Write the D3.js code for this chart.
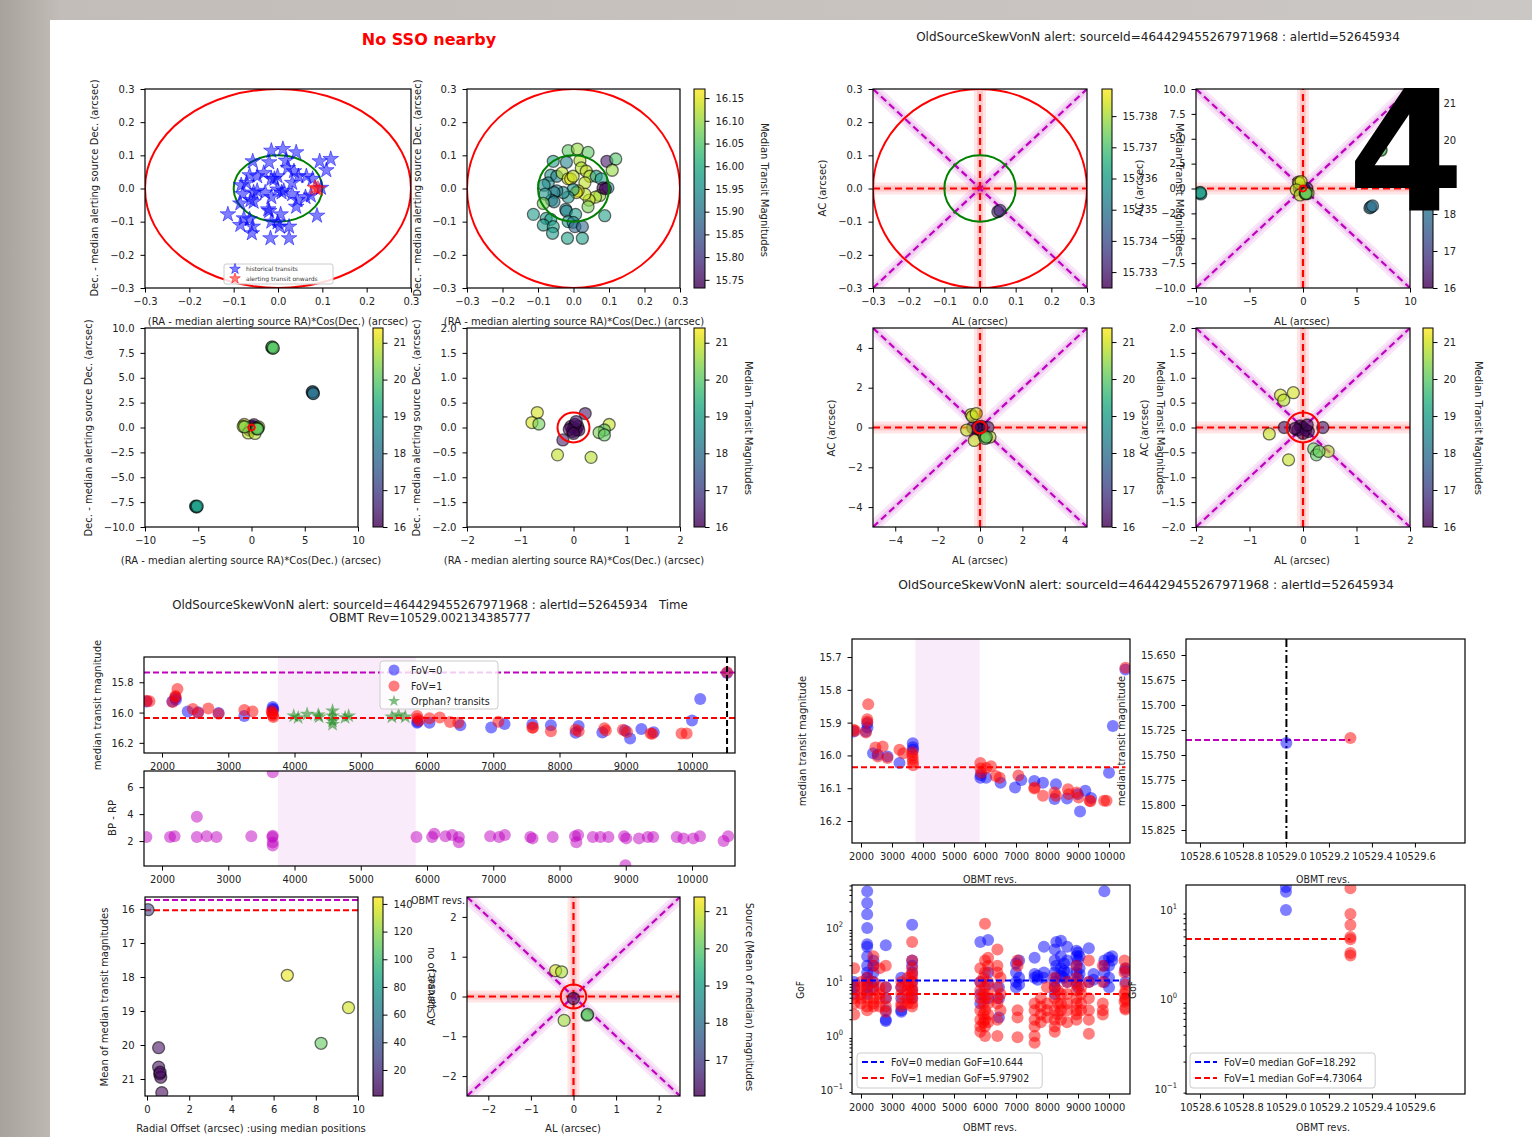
<!DOCTYPE html>
<meta charset="utf-8">
<style>
  body { margin: 0; background: #bdb8b3; }
</style>
<svg id="fig" width="1532" height="1137"></svg>
<script src="https://cdn.jsdelivr.net/npm/d3@7"></script>
<script>
// ---- data ----
const alertRev = 10529.002134385777;
const medianMag = 16.036, alertMag = 15.735;
const gapRevs = [3750, 5830];
const medianGof0 = 10.644, medianGof1 = 5.97902;
const alertGof0 = 18.292, alertGof1 = 4.73064;

// [dRA*cosDec, dDec, median transit mag] of the historical transits
const histOffsets = [[-0.015,0.114,16.06],[0.011,0.119,16.10],[0.041,0.109,16.06],[0.094,0.082,15.76],[0.119,0.089,16.05],
  [0.109,0.055,16.10],[-0.057,0.082,15.98],[-0.02,0.079,15.93],[0.018,0.084,16.12],[-0.064,0.04,15.96],[-0.071,0.017,15.95],
  [-0.083,0.01,15.95],[-0.047,0.037,15.93],[-0.032,0.047,16.12],[-0.015,0.029,16.14],[-0.008,0.029,16.15],[-0.001,0.037,16.13],
  [0.022,0.062,16.12],[0.036,0.052,16.13],[0.046,0.037,16.12],[0.032,0.017,16.13],[0.064,0.037,15.97],[0.078,0.029,15.98],
  [0.097,0.002,15.97],[0.074,-0.021,16.10],[0.062,-0.026,16.12],[0.044,-0.035,16.13],[0.032,-0.017,16.13],[0.013,-0.007,16.14],
  [0.008,-0.012,16.15],[-0.001,-0.003,15.97],[-0.015,-0.026,15.96],[-0.029,-0.012,15.95],[-0.047,-0.007,15.92],[-0.055,-0.012,15.93],
  [-0.062,-0.035,15.93],[-0.055,-0.04,15.92],[-0.08,-0.017,15.96],[-0.085,-0.045,16.08],[0.041,-0.055,16.08],[-0.022,-0.063,15.94],
  [-0.02,-0.068,15.93],[0.006,-0.078,15.97],[-0.113,-0.078,15.97],[-0.077,-0.09,15.97],[-0.064,-0.093,15.98],[-0.085,-0.11,15.97],
  [-0.057,-0.115,15.98],[-0.059,-0.135,15.97],[-0.015,-0.1,15.97],[-0.001,-0.102,15.93],[0.004,-0.115,15.88],[0.025,-0.115,15.88],
  [0.088,-0.082,15.98],[-0.017,-0.15,15.98],[0.025,-0.15,15.98]];
const alertOffsets = [[0.083,0.002,15.735],[0.09,-0.001,15.737]];
const alertAlAc = [[0.05,-0.07,15.733],[0.056,-0.066,15.7333]];

// neighbouring transits [dRA, dDec, mag] and the same in [AL, AC, mag]
const neighbourSky = [[0,0,16.05],[0.05,-0.05,16.1],[-0.05,0.02,16.08],[0.08,0.02,16.12],[-0.02,-0.08,16.15],[0.1,-0.05,16.1],
  [0.03,0.06,16.2],[-0.08,-0.04,16.1],[0.0,-0.12,16.15],[0.05,0.12,16.3],[0.22,0.28,16.3],[-0.2,-0.25,16.4],
  [-0.68,0.3,21.0],[-0.78,0.1,21.0],[-0.3,-0.55,20.9],[0.33,-0.6,20.8],[0.67,0.06,20.9],
  [-0.65,0.07,20.2],[0.58,-0.05,20.0],[0.48,-0.1,20.3],[0.58,-0.15,20.1],
  [1.9,8.05,20.0],[2.0,7.95,20.0],[1.95,8.1,20.0],[2.05,8.0,20.0],[5.7,3.55,18.0],[5.8,3.45,18.0],[5.75,3.6,18.0],[5.8,3.4,18.0],
  [-5.25,-7.9,19.0],[-5.15,-8.0,19.0],[-5.2,-7.95,19.0],[-5.1,-7.9,19.0]];
const neighbourAlAc = [[0,0,16.05],[0.05,-0.05,16.1],[-0.05,0.03,16.08],[0.1,-0.08,16.12],[-0.1,-0.05,16.15],[0.0,-0.12,16.1],
  [0.08,0.05,16.2],[-0.15,-0.02,16.1],[0.37,0.0,16.5],[-0.35,0.0,16.4],
  [-0.42,0.65,21.0],[-0.36,0.55,20.8],[-0.18,0.7,21.0],[-0.63,-0.13,20.9],[-0.27,-0.65,20.9],[0.47,-0.48,20.8],
  [0.2,-0.43,20.1],[0.25,-0.55,20.0],[0.3,-0.48,20.2],
  [-9.65,-0.45,19.0],[-9.55,-0.55,19.0],[-9.6,-0.4,19.0],[6.25,-1.95,18.0],[6.35,-1.85,18.0],[6.5,-1.75,18.0],
  [7.25,3.9,20.0],[7.3,3.85,20.0]];

// light curve [OBMT rev, median transit mag]
const fov0Transits = [[1767,15.927],[2155,15.927],[2202,15.902],[2210,15.915],[2388,15.993],[2543,15.998],[2854,16.003],
  [3242,16.023],[3670,15.963],[3675,15.975],[3680,15.983],[5851,16.068],[5860,16.06],[6037,16.068],[6503,16.083],[6969,16.098],
  [7171,16.075],[7590,16.078],[7870,16.083],[8289,16.088],[8243,16.133],[8647,16.131],[8988,16.118],[9066,16.171],[9236,16.108],
  [9422,16.130],[10000,16.053],[10124,15.910],[10529.002,15.738]];
const fov1Transits = [[1767,15.922],[1810,15.925],[2160,15.93],[2202,15.890],[2205,15.897],[2233,15.844],[2466,15.976],
  [2543,16.003],[2699,15.973],[2854,16.008],[3242,15.983],[3366,15.993],[3655,15.99],[3662,16.0],[3668,16.01],[3674,16.02],
  [3680,16.03],[5851,16.023],[5855,16.04],[5882,16.053],[6037,16.038],[6193,16.033],[6348,16.063],[6472,16.068],[7078,16.061],
  [7590,16.101],[7600,16.098],[7870,16.123],[8243,16.113],[8289,16.123],[8677,16.103],[8700,16.118],[8957,16.113],[9019,16.128],
  [9376,16.138],[9400,16.14],[9842,16.138],[9919,16.138],[10529.3,15.733]];
const orphanTransits = [[3988,16.022],[4055,16.033],[4190,16.011],[4358,16.016],[4371,16.029],[4574,15.989],[4574,16.022],
  [4574,16.056],[4574,16.078],[4763,16.033],[4817,16.022],[5470,16.029],[5571,16.016],[5672,16.029]];
const bpRp = [[1764,2.3],[2121,2.3],[2189,2.35],[2526,2.3],[2526,3.8],[2674,2.35],[2822,2.3],[3348,2.35],[3665,2.3],[3671,2.4],
  [3671,1.9],[3671,1.67],[3671,7.1],[5841,2.3],[6077,2.3],[6110,2.55],[6279,2.35],[6380,2.45],[6481,2.3],[6481,1.92],[6953,2.35],
  [7088,2.3],[7175,2.45],[7559,2.3],[7593,2.2],[7897,2.3],[8234,2.35],[8254,1.92],[8281,2.45],[8503,2.3],[8617,2.3],[8739,2.3],
  [8975,2.35],[9008,2.2],[8995,0.2],[9199,2.2],[9333,2.3],[9414,2.3],[9770,2.3],[9871,2.2],[10019,2.2],[10120,2.35],[10477,2.0],[10545,2.35]];

// neighbour sources [radial offset, mean of median mags, n transits]
const radialOffsets = [[0.05,16.02,30],[0.55,20.08,8],[0.55,20.65,8],[0.6,20.85,5],[0.65,20.95,5],[0.62,20.8,6],[0.7,21.4,5],
  [6.65,17.95,140],[8.25,19.95,110],[9.55,18.9,135]];
const meanAlAc = [[-0.42,0.65,21.0],[-0.28,0.62,20.7],[-0.22,-0.6,20.6],[0.32,-0.47,19.9],[0.33,-0.45,20.1],[0,-0.05,16.3]];

// GoF per transit, grouped by OBMT rev
const gofFov0 = [[1780,[10,8,6]],[2200,[480,290,180,100,50,45,30,20,15,12,10,8,6]],[2400,[25,20,15,10,8]],
  [2800,[48,8,5,3,2,1.9]],[3300,[12,8,5,3,2.8]],[3650,[115,25,20,15,10,7,5]],[5850,[55,10,6,4]],[6100,[60,15,9,5]],
  [6450,[8,5,2.2]],[7000,[22,15,10,8]],[7100,[25,12,9]],[7600,[28,14,12]],[7700,[13,11]],[7900,[45,15,12]],
  [8250,[40,25,15,10,8,6]],[8300,[55,20,12]],[8450,[58,30,18,13]],[8550,[22,16,12]],[8650,[45,25,15,10]],
  [8950,[38,30,20,15,10]],[9000,[35,25,12,8]],[9050,[30,18,14]],[9350,[42,10]],[9500,[14,11]],
  [9850,[480,25,20,15,10]],[10000,[28,20,12,8]],[10100,[30,25]],[10529.0,[18,16,10]]];
const gofFov1 = [[1780,[18,8,5,4,2.5]],[2000,[10,8,6,5,4]],[2200,[12,9,7,5,3.5,3]],[2400,[30,20,10,7,5,4,3.5]],
  [2600,[18,8,6,5,3.5]],[2800,[20,8,5,3.5,2.8]],[3300,[10,8,6,4,3.5]],[3500,[12,9,7,5,4]],
  [3650,[55,25,18,14,12,10,8,7,6,5,4,3.5]],[5850,[18,10,7,5,3,2,1.5,1.2]],[5950,[12,6,4,2.5,1.8]],
  [6000,[120,25,15,8,5,3,2,1.5,1]],[6100,[28,20,10,6,4,2.5,1.8]],[6400,[40,20,15,8,5,4,2,1]],[6500,[12,6,3]],
  [7050,[25,20,3,2.2,0.95]],[7600,[4,3,2,1.5,1,0.75]],[7800,[5,3.5,2.5,1.8]],[8000,[8,4,3,2.2]],
  [8250,[12,8,5,3,2,1.5,1.2]],[8350,[7,4,2.5]],[8450,[6,4,3,2]],[8650,[10,6,4,3,1.8]],
  [8950,[20,12,9,7,5,4,3,2.5,2]],[9100,[8,6,4,3]],[9350,[25,10,5,3,2,1.1]],[9800,[20,10,4,3,2.5]],[10500,[25,15,6,4.3]],
  [10529.3,[17.5,9,6.8,5,4.7,3.3,3.1]]];

// tick values
const offsetTicks = [-0.3, -0.2, -0.1, 0, 0.1, 0.2, 0.3];
const revTicks = [2000, 3000, 4000, 5000, 6000, 7000, 8000, 9000, 10000];
const zoomRevTicks = [10528.6, 10528.8, 10529.0, 10529.2, 10529.4, 10529.6];
const magTicks = [16, 17, 18, 19, 20, 21];

const title1 = "OldSourceSkewVonN alert: sourceId=464429455267971968 : alertId=52645934";

// ---- drawing ----
const fontMain = "DejaVu Sans";
const fontNarrow = "'Liberation Sans Narrow','DejaVu Sans Condensed','Liberation Sans',sans-serif";
const svg = d3.select("#fig");
const defs = svg.append("defs");
const bg = defs.append("linearGradient").attr("id", "bgGrad").attr("x1", 0).attr("x2", 1).attr("y1", 0).attr("y2", 0);
bg.append("stop").attr("offset", 0).attr("stop-color", "#a8a29c");
bg.append("stop").attr("offset", 0.04).attr("stop-color", "#c2bdb8");
bg.append("stop").attr("offset", 1).attr("stop-color", "#cbc7c4");
svg.append("rect").attr("width", 1532).attr("height", 1137).attr("fill", "url(#bgGrad)");
svg.append("rect").attr("x", 50).attr("y", 20).attr("width", 1482).attr("height", 1117).attr("fill", "#fff");

function label(x, y, txt, o = {}) {
  const t = svg.append("text").attr("x", x).attr("y", y).text(txt)
    .attr("font-family", o.font || fontMain).attr("font-size", o.size || 10)
    .attr("text-anchor", o.anchor || "middle").attr("fill", o.fill || "#222")
    .attr("font-weight", o.weight || "normal");
  if (o.rot) t.attr("transform", `rotate(${o.rot},${x},${y})`).attr("dominant-baseline", "middle");
  return t;
}

let clipCount = 0;
function panel(o) {
  const x = d3.scaleLinear().domain(o.xd).range([o.l, o.l + o.w]);
  const y = (o.ylog ? d3.scaleLog() : d3.scaleLinear()).domain(o.yd).range([o.t + o.h, o.t]);
  const id = "clip" + (clipCount++);
  defs.append("clipPath").attr("id", id).append("rect")
    .attr("x", o.l).attr("y", o.t).attr("width", o.w).attr("height", o.h);
  const g = svg.append("g").attr("clip-path", `url(#${id})`);
  const axes = svg.append("g");
  axes.append("g").attr("transform", `translate(0,${o.t + o.h})`)
    .call(d3.axisBottom(x).tickValues(o.xt).tickFormat(o.xf).tickSizeInner(4.5).tickSizeOuter(0).tickPadding(5));
  axes.append("g").attr("transform", `translate(${o.l},0)`)
    .call(d3.axisLeft(y).tickValues(o.yt).tickFormat(o.yf).tickSizeInner(4.5).tickSizeOuter(0).tickPadding(6));
  axes.selectAll(".domain").remove();
  axes.selectAll("text").attr("font-family", o.font || fontMain).attr("font-size", o.fs || 10).attr("fill", "#222");
  axes.append("rect").attr("x", o.l).attr("y", o.t).attr("width", o.w).attr("height", o.h)
    .attr("fill", "none").attr("stroke", "#000").attr("stroke-width", 1.2);
  return { x, y, g, axes, o };
}

let gradCount = 0;
function colorbar(o) {
  const s = d3.scaleLinear().domain(o.d).range([o.t + o.h, o.t]);
  const id = "grad" + (gradCount++);
  const lg = defs.append("linearGradient").attr("id", id).attr("x1", 0).attr("y1", 1).attr("x2", 0).attr("y2", 0);
  d3.range(0, 1.0001, 0.05).forEach(t => lg.append("stop").attr("offset", t).attr("stop-color", d3.interpolateViridis(t)));
  const g = svg.append("g");
  g.append("rect").attr("x", o.l).attr("y", o.t).attr("width", o.w).attr("height", o.h)
    .attr("fill", `url(#${id})`).attr("fill-opacity", 0.8).attr("stroke", "#000").attr("stroke-width", 1);
  const a = g.append("g").attr("transform", `translate(${o.l + o.w},0)`)
    .call(d3.axisRight(s).tickValues(o.ticks).tickFormat(o.fmt).tickSizeInner(4.5).tickSizeOuter(0).tickPadding(6));
  a.select(".domain").remove();
  a.selectAll("text").attr("font-family", fontMain).attr("font-size", 10).attr("fill", "#222");
  return d3.scaleSequential(d3.interpolateViridis).domain(o.d);
}

function colourDots(p, data, color, r = 6) {
  p.g.selectAll(null).data(data).join("circle")
    .attr("cx", d => p.x(d[0])).attr("cy", d => p.y(d[1])).attr("r", r)
    .attr("fill", d => color(d[2])).attr("fill-opacity", 0.6)
    .attr("stroke", "#000").attr("stroke-opacity", 0.55).attr("stroke-width", 1.3);
}

function ring(p, radius, colour) {
  p.g.append("ellipse").attr("cx", p.x(0)).attr("cy", p.y(0))
    .attr("rx", Math.abs(p.x(radius) - p.x(0))).attr("ry", Math.abs(p.y(radius) - p.y(0)))
    .attr("fill", "none").attr("stroke", colour).attr("stroke-width", 2);
}

function hline(p, v, colour, x0, x1) {
  const d = p.x.domain();
  p.g.append("line").attr("x1", p.x(x0 ?? d[0])).attr("x2", p.x(x1 ?? d[1]))
    .attr("y1", p.y(v)).attr("y2", p.y(v))
    .attr("stroke", colour).attr("stroke-width", 2).attr("stroke-dasharray", "6,3");
}

function crossGuides(p) {
  const [x0, x1] = p.x.domain(), [y0, y1] = p.y.domain();
  const segs = [
    { a: [0, y0], b: [0, y1], c: "#ff0000" }, { a: [x0, 0], b: [x1, 0], c: "#ff0000" },
    { a: [x0, y0], b: [x1, y1], c: "#bf00bf" }, { a: [x0, y1], b: [x1, y0], c: "#bf00bf" }];
  segs.forEach(s => {
    [[12, 0.1], [6, 0.12]].forEach(([w, op]) =>
      p.g.append("line").attr("x1", p.x(s.a[0])).attr("y1", p.y(s.a[1])).attr("x2", p.x(s.b[0])).attr("y2", p.y(s.b[1]))
        .attr("stroke", s.c).attr("stroke-opacity", op).attr("stroke-width", w));
  });
  segs.slice().reverse().forEach(s =>
    p.g.append("line").attr("x1", p.x(s.a[0])).attr("y1", p.y(s.a[1])).attr("x2", p.x(s.b[0])).attr("y2", p.y(s.b[1]))
      .attr("stroke", s.c).attr("stroke-width", 2.2).attr("stroke-dasharray", "7,4"));
}

const f1 = d3.format(".1f"), fInt = d3.format("d");

// ---------- top-left block ----------
label(429, 45, "No SSO nearby", { size: 16, weight: "bold", fill: "#ff0000" });

const pA1 = panel({ l: 145, t: 89, w: 266, h: 199, xd: [-0.3, 0.3], yd: [-0.3, 0.3], xt: offsetTicks, yt: offsetTicks, xf: f1, yf: f1 });
ring(pA1, 0.3, "#ff0000");
ring(pA1, 0.1, "#008000");
const star = d3.symbol(d3.symbolStar, 75);
pA1.g.selectAll(null).data(histOffsets).join("path").attr("d", star)
  .attr("transform", d => `translate(${pA1.x(d[0])},${pA1.y(d[1])})`)
  .attr("fill", "#0000ff").attr("fill-opacity", 0.5).attr("stroke", "#0000ff").attr("stroke-opacity", 0.5);
pA1.g.selectAll(null).data(alertOffsets).join("path").attr("d", star)
  .attr("transform", d => `translate(${pA1.x(d[0])},${pA1.y(d[1])})`)
  .attr("fill", "#ff0000").attr("fill-opacity", 0.5).attr("stroke", "#ff0000").attr("stroke-opacity", 0.5);
// legend
pA1.g.append("rect").attr("x", 224).attr("y", 264).attr("width", 109).attr("height", 20).attr("rx", 2)
  .attr("fill", "#fff").attr("fill-opacity", 0.85).attr("stroke", "#ccc");
[["historical transits", "#0000ff", 269], ["alerting transit onwards", "#ff0000", 278.5]].forEach(([t, c, yy]) => {
  pA1.g.append("path").attr("d", d3.symbol(d3.symbolStar, 35)).attr("transform", `translate(235,${yy})`)
    .attr("fill", c).attr("fill-opacity", 0.5).attr("stroke", c).attr("stroke-opacity", 0.5);
  pA1.g.append("text").attr("x", 246).attr("y", yy + 2).text(t).attr("font-family", fontMain).attr("font-size", 6).attr("fill", "#333");
});
label(95, 188, "Dec. - median alerting source Dec. (arcsec)", { rot: -90 });
label(278, 325, "(RA - median alerting source RA)*Cos(Dec.) (arcsec)");

const pA2 = panel({ l: 467, t: 89, w: 213, h: 199, xd: [-0.3, 0.3], yd: [-0.3, 0.3], xt: offsetTicks, yt: offsetTicks, xf: f1, yf: f1 });
const cA2 = colorbar({ l: 694, t: 89, w: 11, h: 199, d: [15.732, 16.17], ticks: [15.75, 15.8, 15.85, 15.9, 15.95, 16.0, 16.05, 16.1, 16.15], fmt: d3.format(".2f") });
ring(pA2, 0.3, "#ff0000");
colourDots(pA2, histOffsets, cA2);
colourDots(pA2, alertOffsets, cA2);
ring(pA2, 0.1, "#008000");
label(418, 188, "Dec. - median alerting source Dec. (arcsec)", { rot: -90 });
label(574, 325, "(RA - median alerting source RA)*Cos(Dec.) (arcsec)");
label(764, 190, "Median Transit Magnitudes", { rot: 90 });

const pB1 = panel({ l: 145, t: 328, w: 213, h: 199, xd: [-10, 10], yd: [-10, 10], xt: [-10, -5, 0, 5, 10],
  yt: [-10, -7.5, -5, -2.5, 0, 2.5, 5, 7.5, 10], xf: fInt, yf: f1 });
const cB1 = colorbar({ l: 373, t: 328, w: 10, h: 199, d: [16, 21.4], ticks: magTicks, fmt: fInt });
colourDots(pB1, neighbourSky, cB1);
ring(pB1, 0.3, "#ff0000");
label(89, 428, "Dec. - median alerting source Dec. (arcsec)", { rot: -90 });
label(251, 564, "(RA - median alerting source RA)*Cos(Dec.) (arcsec)");

const pB2 = panel({ l: 467, t: 328, w: 213, h: 199, xd: [-2, 2], yd: [-2, 2], xt: [-2, -1, 0, 1, 2],
  yt: [-2, -1.5, -1, -0.5, 0, 0.5, 1, 1.5, 2], xf: fInt, yf: f1 });
const cB2 = colorbar({ l: 694, t: 328, w: 11, h: 199, d: [16, 21.4], ticks: magTicks, fmt: fInt });
colourDots(pB2, neighbourSky, cB2);
ring(pB2, 0.3, "#ff0000");
label(417, 428, "Dec. - median alerting source Dec. (arcsec)", { rot: -90 });
label(574, 564, "(RA - median alerting source RA)*Cos(Dec.) (arcsec)");
label(748, 428, "Median Transit Magnitudes", { rot: 90 });

// ---------- top-right block ----------
label(1158, 41, title1, { size: 12 });

const pC1 = panel({ l: 873, t: 89, w: 214, h: 199, xd: [-0.3, 0.3], yd: [-0.3, 0.3], xt: offsetTicks, yt: offsetTicks, xf: f1, yf: f1 });
const cC1 = colorbar({ l: 1102, t: 89, w: 10, h: 199, d: [15.73249, 15.73887], ticks: [15.733, 15.734, 15.735, 15.736, 15.737, 15.738], fmt: d3.format(".3f") });
crossGuides(pC1);
ring(pC1, 0.3, "#ff0000");
ring(pC1, 0.1, "#008000");
colourDots(pC1, alertAlAc, cC1);
label(823, 188, "AC (arcsec)", { rot: -90 });
label(980, 325, "AL (arcsec)");
label(1179, 190, "Median Transit Magnitudes", { rot: 90 });

const pC2 = panel({ l: 1196, t: 89, w: 214, h: 199, xd: [-10, 10], yd: [-10, 10], xt: [-10, -5, 0, 5, 10],
  yt: [-10, -7.5, -5, -2.5, 0, 2.5, 5, 7.5, 10], xf: fInt, yf: f1 });
const cC2 = colorbar({ l: 1423, t: 89, w: 10, h: 199, d: [16, 21.38], ticks: magTicks, fmt: fInt });
crossGuides(pC2);
colourDots(pC2, neighbourAlAc, cC2);
ring(pC2, 0.3, "#ff0000");
label(1140, 188, "AC (arcsec)", { rot: -90 });
label(1302, 325, "AL (arcsec)");

const pD1 = panel({ l: 873, t: 328, w: 214, h: 199, xd: [-5.05, 5.05], yd: [-5, 5], xt: [-4, -2, 0, 2, 4], yt: [-4, -2, 0, 2, 4], xf: fInt, yf: fInt });
const cD1 = colorbar({ l: 1102, t: 328, w: 10, h: 199, d: [16, 21.38], ticks: magTicks, fmt: fInt });
crossGuides(pD1);
colourDots(pD1, neighbourAlAc, cD1);
ring(pD1, 0.3, "#ff0000");
label(832, 428, "AC (arcsec)", { rot: -90 });
label(980, 564, "AL (arcsec)");
label(1160, 428, "Median Transit Magnitudes", { rot: 90 });

const pD2 = panel({ l: 1196, t: 328, w: 214, h: 199, xd: [-2, 2], yd: [-2, 2], xt: [-2, -1, 0, 1, 2],
  yt: [-2, -1.5, -1, -0.5, 0, 0.5, 1, 1.5, 2], xf: fInt, yf: f1 });
const cD2 = colorbar({ l: 1423, t: 328, w: 10, h: 199, d: [16, 21.38], ticks: magTicks, fmt: fInt });
crossGuides(pD2);
colourDots(pD2, neighbourAlAc, cD2);
ring(pD2, 0.3, "#ff0000");
label(1145, 428, "AC (arcsec)", { rot: -90 });
label(1302, 564, "AL (arcsec)");
label(1478, 428, "Median Transit Magnitudes", { rot: 90 });

label(1146, 589, title1, { size: 12.3 });

// ---------- bottom-left block ----------
label(430, 609, title1 + "\u00a0\u00a0\u00a0Time", { size: 11.8 });
label(430, 622, "OBMT Rev=10529.002134385777", { size: 11.8 });

function blueRed(p, r = 6) {
  p.g.selectAll(null).data(fov0Transits).join("circle").attr("cx", d => p.x(d[0])).attr("cy", d => p.y(d[1])).attr("r", r)
    .attr("fill", "#0000ff").attr("fill-opacity", 0.5);
  p.g.selectAll(null).data(fov1Transits).join("circle").attr("cx", d => p.x(d[0])).attr("cy", d => p.y(d[1])).attr("r", r)
    .attr("fill", "#ff0000").attr("fill-opacity", 0.5);
}
function gapShade(p) {
  const [a, b] = p.y.range();
  p.g.append("rect").attr("x", p.x(gapRevs[0])).attr("width", p.x(gapRevs[1]) - p.x(gapRevs[0]))
    .attr("y", b).attr("height", a - b).attr("fill", "#bf00bf").attr("fill-opacity", 0.08);
}

const pE1 = panel({ l: 144, t: 657, w: 591, h: 96, xd: [1728, 10649], yd: [16.267, 15.633], xt: revTicks, yt: [15.8, 16.0, 16.2],
  xf: fInt, yf: f1, font: fontNarrow, fs: 11 });
gapShade(pE1);
hline(pE1, alertMag, "#bf00bf");
blueRed(pE1);
pE1.g.selectAll(null).data(orphanTransits).join("path").attr("d", d3.symbol(d3.symbolStar, 70))
  .attr("transform", d => `translate(${pE1.x(d[0])},${pE1.y(d[1])})`).attr("fill", "#008000").attr("fill-opacity", 0.5);
hline(pE1, medianMag, "#ff0000");
pE1.g.append("line").attr("x1", pE1.x(alertRev)).attr("x2", pE1.x(alertRev)).attr("y1", 657).attr("y2", 753)
  .attr("stroke", "#000").attr("stroke-width", 2).attr("stroke-dasharray", "6,3");
// legend
const lgE = pE1.g.append("g");
lgE.append("rect").attr("x", 380).attr("y", 661).attr("width", 118).attr("height", 48).attr("rx", 3)
  .attr("fill", "#fff").attr("fill-opacity", 0.8).attr("stroke", "#ccc");
lgE.append("circle").attr("cx", 394).attr("cy", 670).attr("r", 5.5).attr("fill", "#0000ff").attr("fill-opacity", 0.5);
lgE.append("circle").attr("cx", 394).attr("cy", 686).attr("r", 5.5).attr("fill", "#ff0000").attr("fill-opacity", 0.5);
lgE.append("path").attr("d", d3.symbol(d3.symbolStar, 45)).attr("transform", "translate(394,701)").attr("fill", "#008000").attr("fill-opacity", 0.5);
[["FoV=0", 674], ["FoV=1", 690], ["Orphan? transits", 705]].forEach(([t, yy]) =>
  lgE.append("text").attr("x", 411).attr("y", yy).text(t).attr("font-family", fontNarrow).attr("font-size", 10.5).attr("fill", "#222"));
label(98, 705, "median transit magnitude", { rot: -90 });

const pE2 = panel({ l: 144, t: 771, w: 591, h: 95, xd: [1728, 10649], yd: [0.15, 7.2], xt: revTicks, yt: [2, 4, 6],
  xf: fInt, yf: fInt, font: fontNarrow, fs: 11 });
gapShade(pE2);
pE2.g.selectAll(null).data(bpRp).join("circle").attr("cx", d => pE2.x(d[0])).attr("cy", d => pE2.y(d[1])).attr("r", 6)
  .attr("fill", "#bf00bf").attr("fill-opacity", 0.5);
label(113, 818, "BP - RP", { rot: -90 });
label(438, 904, "OBMT revs.", { font: fontNarrow, size: 10.5 });

const pE3 = panel({ l: 145, t: 897, w: 213, h: 199, xd: [-0.095, 10], yd: [21.5, 15.647], xt: [0, 2, 4, 6, 8, 10],
  yt: magTicks, xf: fInt, yf: fInt });
const cE3 = colorbar({ l: 373, t: 897, w: 10, h: 199, d: [1.2, 145], ticks: [20, 40, 60, 80, 100, 120, 140], fmt: fInt });
hline(pE3, alertMag, "#bf00bf");
hline(pE3, medianMag, "#ff0000");
colourDots(pE3, radialOffsets, cE3);
label(105, 997, "Mean of median transit magnitudes", { rot: -90 });
label(251, 1132, "Radial Offset (arcsec) :using median positions");
label(431, 980, "no of transits", { rot: 90 });

const pE4 = panel({ l: 467, t: 897, w: 213, h: 199, xd: [-2.5, 2.5], yd: [-2.5, 2.5], xt: [-2, -1, 0, 1, 2], yt: [-2, -1, 0, 1, 2],
  xf: fInt, yf: fInt });
const cE4 = colorbar({ l: 694, t: 897, w: 11, h: 199, d: [16.03, 21.38], ticks: [17, 18, 19, 20, 21], fmt: fInt });
crossGuides(pE4);
colourDots(pE4, meanAlAc, cE4);
ring(pE4, 0.3, "#ff0000");
label(432, 997, "AC (arcsec)", { rot: -90 });
label(573, 1132, "AL (arcsec)");
label(749, 997, "Source (Mean of median) magnitudes", { rot: 90 });

// ---------- bottom-right block ----------
const pF1 = panel({ l: 852, t: 639, w: 278, h: 204, xd: [1710, 10677], yd: [16.267, 15.645], xt: revTicks,
  yt: [15.7, 15.8, 15.9, 16.0, 16.1, 16.2], xf: fInt, yf: f1, font: fontNarrow, fs: 11 });
gapShade(pF1);
blueRed(pF1);
hline(pF1, medianMag, "#ff0000", 1710, 10529.3);
label(803, 741, "median transit magnitude", { rot: -90 });
label(990, 883, "OBMT revs.", { font: fontNarrow, size: 10.5 });

const pF2 = panel({ l: 1186, t: 639, w: 279, h: 204, xd: [10528.535, 10529.833], yd: [15.838, 15.634], xt: zoomRevTicks,
  yt: [15.65, 15.675, 15.7, 15.725, 15.75, 15.775, 15.8, 15.825], xf: f1, yf: d3.format(".3f"), font: fontNarrow, fs: 11 });
hline(pF2, alertMag, "#bf00bf", 10528.535, 10529.3);
pF2.g.append("line").attr("x1", pF2.x(alertRev)).attr("x2", pF2.x(alertRev)).attr("y1", 639).attr("y2", 843)
  .attr("stroke", "#000").attr("stroke-width", 2).attr("stroke-dasharray", "8,3,2,3");
blueRed(pF2);
label(1122, 741, "median transit magnitude", { rot: -90 });
label(1323, 883, "OBMT revs.", { font: fontNarrow, size: 10.5 });

function logAxis(p, decades) {
  const l = p.o.l;
  decades.forEach(k => {
    for (let m = 2; m <= 9; m++) {
      const v = m * Math.pow(10, k);
      if (v > p.y.domain()[0] && v < p.y.domain()[1])
        p.axes.append("line").attr("x1", l - 2.5).attr("x2", l).attr("y1", p.y(v)).attr("y2", p.y(v)).attr("stroke", "#000");
    }
    const v = Math.pow(10, k);
    if (v >= p.y.domain()[0] && v <= p.y.domain()[1]) {
      const t = p.axes.append("text").attr("x", l - 9).attr("y", p.y(v) + 4).attr("text-anchor", "end")
        .attr("font-family", fontNarrow).attr("font-size", 11).attr("fill", "#222");
      t.append("tspan").text("10");
      t.append("tspan").text(k < 0 ? "\u2212" + (-k) : k).attr("font-size", 7.5).attr("dy", -5);
    }
  });
}
function gofDots(p, groups, colour) {
  const pts = groups.flatMap(([rev, vals]) => vals.map(v => [rev, v]));
  p.g.selectAll(null).data(pts).join("circle").attr("cx", d => p.x(d[0])).attr("cy", d => p.y(d[1])).attr("r", 6)
    .attr("fill", colour).attr("fill-opacity", 0.5);
}
function gofLegend(p, x0, y0, t0, t1) {
  const g = p.g.append("g");
  g.append("rect").attr("x", x0).attr("y", y0).attr("width", t0.length * 6.4 + 38).attr("height", 35).attr("rx", 3)
    .attr("fill", "#fff").attr("fill-opacity", 0.85).attr("stroke", "#ccc");
  [[t0, "#0000ff", 9], [t1, "#ff0000", 25]].forEach(([t, c, dy]) => {
    g.append("line").attr("x1", x0 + 5).attr("x2", x0 + 27).attr("y1", y0 + dy).attr("y2", y0 + dy)
      .attr("stroke", c).attr("stroke-width", 2).attr("stroke-dasharray", "6,3");
    g.append("text").attr("x", x0 + 34).attr("y", y0 + dy + 4).text(t)
      .attr("font-family", fontNarrow).attr("font-size", 10.5).attr("fill", "#222");
  });
}

const pF3 = panel({ l: 852, t: 885, w: 278, h: 209, xd: [1710, 10677], yd: [0.0843, 625], ylog: true, xt: revTicks,
  yt: [], xf: fInt, yf: () => "", font: fontNarrow, fs: 11 });
logAxis(pF3, [-2, -1, 0, 1, 2, 3]);
gofDots(pF3, gofFov0, "#0000ff");
gofDots(pF3, gofFov1, "#ff0000");
hline(pF3, medianGof0, "#0000ff", 1710, 10400);
hline(pF3, medianGof1, "#ff0000", 1710, 10677);
gofLegend(pF3, 857, 1053, "FoV=0 median GoF=10.644", "FoV=1 median GoF=5.97902");
label(801, 990, "GoF", { rot: -90, font: fontNarrow });
label(990, 1131, "OBMT revs.", { font: fontNarrow, size: 10.5 });

const pF4 = panel({ l: 1186, t: 885, w: 279, h: 209, xd: [10528.535, 10529.833], yd: [0.088, 19.0], ylog: true, xt: zoomRevTicks,
  yt: [], xf: f1, yf: () => "", font: fontNarrow, fs: 11 });
logAxis(pF4, [-2, -1, 0, 1]);
gofDots(pF4, gofFov0, "#0000ff");
gofDots(pF4, gofFov1, "#ff0000");
hline(pF4, alertGof1, "#ff0000", 10528.535, 10529.3);
gofLegend(pF4, 1190, 1053, "FoV=0 median GoF=18.292", "FoV=1 median GoF=4.73064");
label(1133, 990, "GoF", { rot: -90, font: fontNarrow });
label(1323, 1131, "OBMT revs.", { font: fontNarrow, size: 10.5 });

// big page number overlaid on the figure
svg.append("text").attr("x", 1406).attr("y", 210).text("4").attr("text-anchor", "middle")
  .attr("font-family", fontMain).attr("font-weight", "bold").attr("font-size", 168).attr("fill", "#000");
</script>
